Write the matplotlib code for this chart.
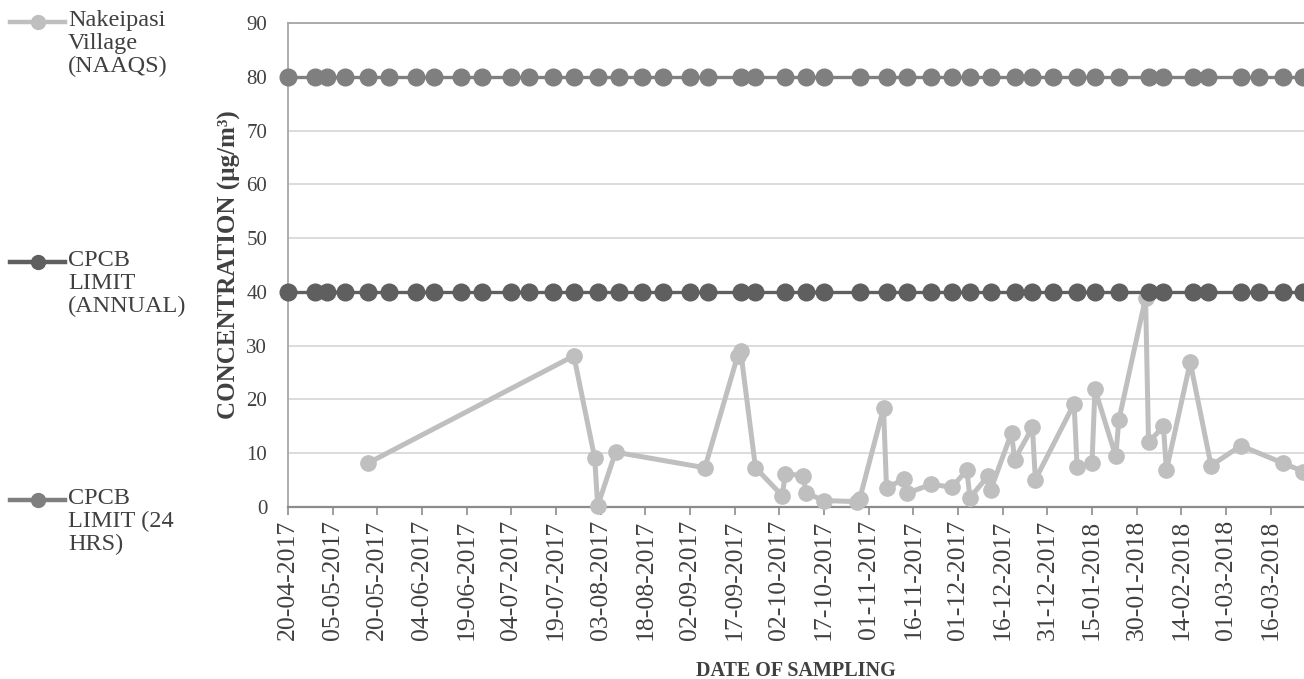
import matplotlib
matplotlib.use("Agg")
import matplotlib.pyplot as plt
from matplotlib.lines import Line2D
import pandas as pd

# ---- data ----
naqs_dates = ["17-05-2017", "25-07-2017", "01-08-2017", "02-08-2017", "08-08-2017",
              "07-09-2017", "18-09-2017", "19-09-2017", "24-09-2017", "03-10-2017",
              "04-10-2017", "10-10-2017", "11-10-2017", "17-10-2017", "28-10-2017",
              "29-10-2017", "06-11-2017", "07-11-2017", "13-11-2017", "14-11-2017",
              "22-11-2017", "29-11-2017", "04-12-2017", "05-12-2017", "11-12-2017",
              "12-12-2017", "19-12-2017", "20-12-2017", "26-12-2017", "27-12-2017",
              "09-01-2018", "10-01-2018", "15-01-2018", "16-01-2018", "23-01-2018",
              "24-01-2018", "02-02-2018", "03-02-2018", "08-02-2018", "09-02-2018",
              "17-02-2018", "24-02-2018", "06-03-2018", "20-03-2018", "27-03-2018"]
naqs_values = [8.2, 28.1, 9.1, 0.2, 10.2,
               7.3, 28.1, 29.1, 7.3, 2.1,
               6.2, 5.8, 2.6, 1.2, 1.0,
               1.5, 18.4, 3.6, 5.2, 2.6,
               4.2, 3.7, 6.9, 1.7, 5.7,
               3.2, 13.8, 8.8, 14.8, 5.1,
               19.2, 7.4, 8.1, 21.9, 9.4,
               16.1, 38.9, 12.0, 15.0, 6.8,
               26.9, 7.7, 11.4, 8.2, 6.6]

limit_dates = ["20-04-2017", "29-04-2017", "03-05-2017", "09-05-2017", "17-05-2017",
               "24-05-2017", "02-06-2017", "08-06-2017", "17-06-2017", "24-06-2017",
               "04-07-2017", "10-07-2017", "18-07-2017", "25-07-2017", "02-08-2017",
               "09-08-2017", "17-08-2017", "24-08-2017", "02-09-2017", "08-09-2017",
               "19-09-2017", "24-09-2017", "04-10-2017", "11-10-2017", "17-10-2017",
               "29-10-2017", "07-11-2017", "14-11-2017", "22-11-2017", "29-11-2017",
               "05-12-2017", "12-12-2017", "20-12-2017", "26-12-2017", "02-01-2018",
               "10-01-2018", "16-01-2018", "24-01-2018", "03-02-2018", "08-02-2018",
               "18-02-2018", "23-02-2018", "06-03-2018", "12-03-2018", "20-03-2018",
               "27-03-2018"]
limit_annual = [40] * len(limit_dates)
limit_24hrs = [80] * len(limit_dates)

series_labels = ["Nakeipasi\nVillage\n(NAAQS)", "CPCB\nLIMIT\n(ANNUAL)", "CPCB\nLIMIT (24\nHRS)"]
y_ticks = [0, 10, 20, 30, 40, 50, 60, 70, 80, 90]
x_start = "20-04-2017"
x_last_tick = "16-03-2018"
x_end = "27-03-2018"

# ---- plotting ----
W, H = 1304, 679
plt.rcParams['font.family'] = ['Liberation Serif', 'DejaVu Serif']
fig = plt.figure(figsize=(W / 100, H / 100), dpi=100)

left, right, top, bottom = 288, 1304, 23, 507
ax = fig.add_axes([left / W, 1 - bottom / H, (right - left) / W, (bottom - top) / H])

c_naqs = "#BFBFBF"
c_annual = "#5F5F5F"
c_24 = "#7F7F7F"
c_text = "#404040"

nd = pd.to_datetime(naqs_dates, format="%d-%m-%Y")
ld = pd.to_datetime(limit_dates, format="%d-%m-%Y")

ax.plot(nd, naqs_values, color=c_naqs, lw=3.6, marker='o', ms=11, zorder=3,
        solid_joinstyle='round', clip_on=False)
ax.plot(ld, limit_annual, color=c_annual, lw=2.4, marker='o', ms=12, zorder=4, clip_on=False)
ax.plot(ld, limit_24hrs, color=c_24, lw=2.4, marker='o', ms=12, zorder=4, clip_on=False)

x0 = pd.to_datetime(x_start, format="%d-%m-%Y")
x1 = pd.to_datetime(x_end, format="%d-%m-%Y") + pd.Timedelta(hours=5)
ax.set_xlim(x0, x1)
ax.set_ylim(0, 90)
ax.set_yticks(y_ticks)
ax.yaxis.grid(True, color="#D9D9D9", lw=1.3)
ax.set_axisbelow(True)

xt = pd.date_range(x0, pd.to_datetime(x_last_tick, format="%d-%m-%Y"), freq="15D")
ax.set_xticks(xt)
ax.set_xticklabels([d.strftime("%d-%m-%Y") for d in xt], rotation=90)
ax.tick_params(axis='x', length=6, width=1.2, color="#8C8C8C", labelsize=18.5,
               labelcolor=c_text, pad=3)
ax.tick_params(axis='y', length=0, labelsize=15, labelcolor=c_text, pad=15)

for s in ['left', 'top']:
    ax.spines[s].set_color("#A6A6A6")
    ax.spines[s].set_linewidth(1.3)
ax.spines['bottom'].set_color("#8C8C8C")
ax.spines['bottom'].set_linewidth(1.6)
ax.spines['right'].set_visible(False)

ax.set_ylabel("CONCENTRATION (µg/m³)", fontsize=18, fontweight='bold',
              color=c_text, labelpad=4)
ax.set_xlabel("DATE OF SAMPLING", fontsize=14.5, fontweight='bold', color=c_text, labelpad=15)

# ---- legend (left side) ----
legend_y = [22, 262, 500]
legend_colors = [c_naqs, c_annual, c_24]
for lab, yy, col in zip(series_labels, legend_y, legend_colors):
    yf = 1 - yy / H
    fig.add_artist(Line2D([10 / W, 65 / W], [yf, yf], color=col, lw=3.2,
                          transform=fig.transFigure))
    fig.add_artist(Line2D([38 / W], [yf], color=col, marker='o', ms=10,
                          transform=fig.transFigure))
    fig.text(68 / W, 1 - (yy - 12) / H, lab, ha='left', va='top', fontsize=17.5,
             color=c_text, linespacing=1.13)

fig.savefig("out.png", dpi=100)
